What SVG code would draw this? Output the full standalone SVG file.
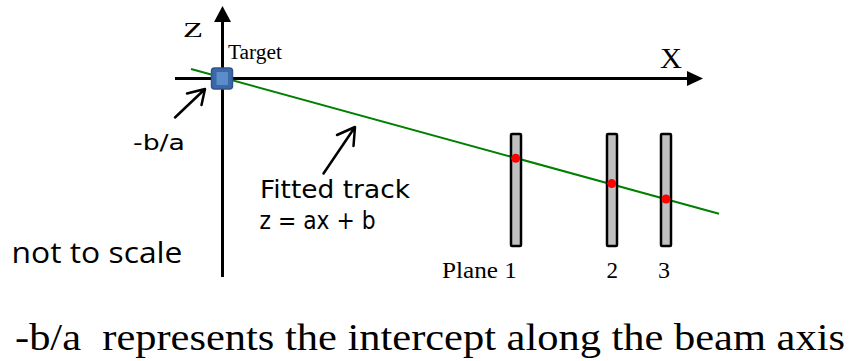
<svg xmlns="http://www.w3.org/2000/svg" width="850" height="361" viewBox="0 0 850 361">
  <style>
    .serif { font-family: "Liberation Serif", "Times New Roman", serif; fill: #000; }
    .hand { font-family: "DejaVu Sans", "Liberation Sans", sans-serif; fill: #000; }
    .axis { stroke: #000; stroke-width: 3; fill: none; }
    .ptr { stroke: #000; stroke-width: 2.5; fill: none; stroke-linecap: round; stroke-linejoin: round; }
    .plane { fill: #c0c0c0; stroke: #000; stroke-width: 2.5; }
    .hit { fill: #ff0000; }
  </style>
  <rect width="850" height="361" fill="#ffffff"/>

  <g id="axes">
    <line class="axis" x1="222.5" y1="20" x2="222.5" y2="277"/>
    <polygon points="222.5,6 214,22 231,22" fill="#000"/>
    <line class="axis" x1="175" y1="78.5" x2="689" y2="78.5"/>
    <polygon points="703,78.5 687,71 687,86" fill="#000"/>
    <text class="serif" x="183" y="37" font-size="22" textLength="20" lengthAdjust="spacingAndGlyphs">Z</text>
    <text class="serif" x="660" y="68" font-size="29" textLength="22" lengthAdjust="spacingAndGlyphs">X</text>
  </g>

  <g id="track">
    <line x1="191" y1="69" x2="719" y2="213.7" stroke="#008000" stroke-width="2"/>
  </g>

  <g id="target">
    <rect x="211.5" y="68" width="21" height="21" rx="3" fill="#3d68a8" stroke="#2f5490" stroke-width="1.5"/>
    <rect x="216.5" y="72" width="11.5" height="13" fill="#5b8ccb"/>
    <text class="serif" x="228" y="58.5" font-size="20" textLength="54" lengthAdjust="spacingAndGlyphs">Target</text>
  </g>

  <g id="plane1">
    <rect class="plane" x="511" y="134" width="10" height="112" rx="1"/>
    <circle class="hit" cx="515.7" cy="158.3" r="4.5"/>
    <text class="serif" x="442" y="278" font-size="23" textLength="75" lengthAdjust="spacingAndGlyphs">Plane 1</text>
  </g>
  <g id="plane2">
    <rect class="plane" x="607" y="134" width="10" height="112" rx="1"/>
    <circle class="hit" cx="611.7" cy="183.6" r="4.5"/>
    <text class="serif" x="606.5" y="278" font-size="23" textLength="11.5" lengthAdjust="spacingAndGlyphs">2</text>
  </g>
  <g id="plane3">
    <rect class="plane" x="661" y="134" width="10" height="112" rx="1"/>
    <circle class="hit" cx="666" cy="199" r="4.5"/>
    <text class="serif" x="658" y="278" font-size="23" textLength="12" lengthAdjust="spacingAndGlyphs">3</text>
  </g>

  <g id="connectors">
    <path class="ptr" d="M175,117.5 L205,89 M187,93.5 L205,89 L201.5,105"/>
    <path class="ptr" d="M323.5,173.5 L355,127 M337,135 L355,127 L353.5,146"/>
  </g>

  <g id="label-intercept">
    <text class="hand" x="133" y="150" font-size="22" textLength="52" lengthAdjust="spacingAndGlyphs">-b/a</text>
  </g>
  <g id="label-fit">
    <text class="hand" x="260" y="197.5" font-size="24" textLength="150" lengthAdjust="spacingAndGlyphs">Fitted track</text>
    <text class="hand" x="259.5" y="228.5" font-size="24" textLength="116" lengthAdjust="spacingAndGlyphs">z = ax + b</text>
  </g>
  <g id="label-scale">
    <text x="11.5" y="262.5" font-family="'Open Sans', 'Liberation Sans', sans-serif" font-size="29" textLength="171" lengthAdjust="spacingAndGlyphs">not to scale</text>
  </g>
  <g id="caption">
    <text class="serif" x="15" y="350" font-size="37" textLength="830" lengthAdjust="spacingAndGlyphs" style="white-space:pre">-b/a  represents the intercept along the beam axis</text>
  </g>
</svg>
